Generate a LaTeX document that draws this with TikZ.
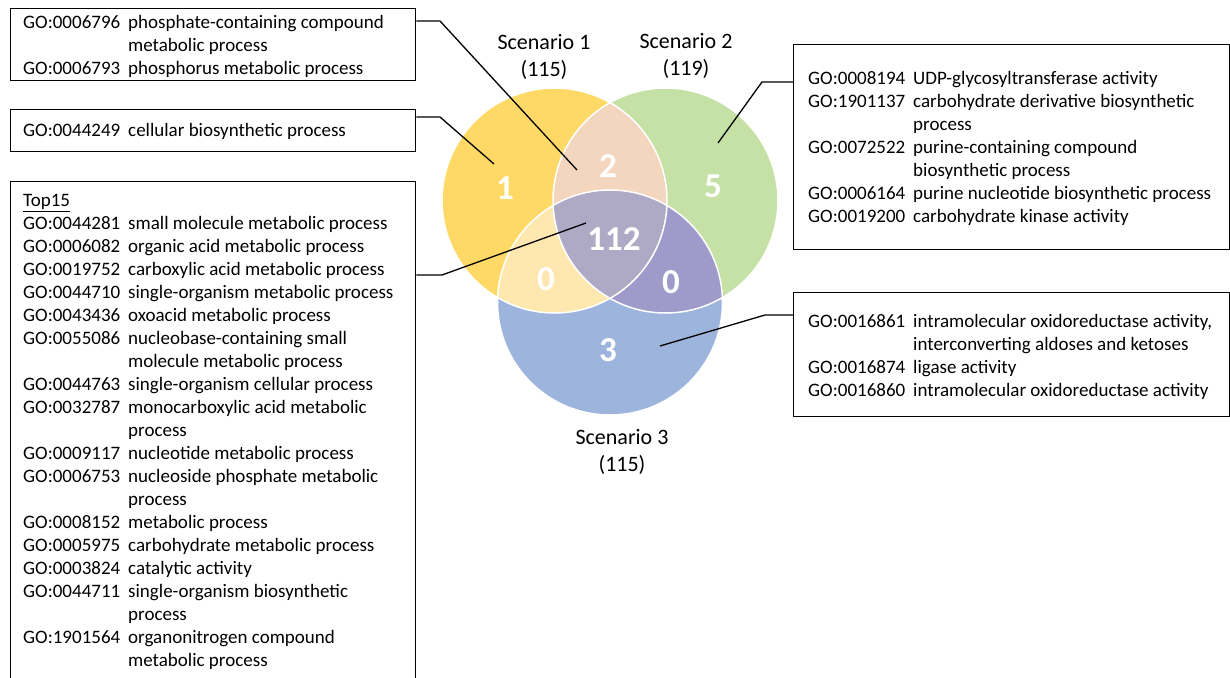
\documentclass[tikz,border=0pt]{standalone}
\usepackage{fontspec}
\setmainfont{Carlito}
\usepackage{array}
\definecolor{setA}{HTML}{FFD966}
\definecolor{setB}{HTML}{C5E1A5}
\definecolor{setC}{HTML}{9DB4DD}
\definecolor{setAB}{HTML}{F4D5BD}
\definecolor{setAC}{HTML}{FFE8B0}
\definecolor{setBC}{HTML}{9E9BCB}
\definecolor{setABC}{HTML}{AEA9C4}
\newcommand{\goterm}[2]{GO:#1 & #2\\}
\newcommand{\gocont}[1]{ & #1\\}
\newenvironment{golist}{\begin{tabular}{@{}p{105pt}@{}l@{}}}{\end{tabular}}
\begin{document}
\begin{tikzpicture}[x=1pt,y=-1pt,
  gobox/.style={draw=black, line width=1.3pt, inner sep=0pt, anchor=north west},
  gotext/.style={anchor=north west, inner sep=0pt, align=left, font=\fontsize{19}{23}\selectfont},
  setlabel/.style={align=center, inner sep=0pt, font=\fontsize{22}{27}\selectfont},
  count/.style={inner sep=0pt, text=white, font=\fontsize{35}{40}\selectfont\bfseries},
  leader/.style={draw=black, line width=1.3pt}]
\useasboundingbox (0,0) rectangle (1230,677);
\clip (0,0) rectangle (1230,677);

% set centres
\coordinate (c1) at (554.5,200.5);
\coordinate (c2) at (665.5,200.5);
\coordinate (c3) at (610,302.5);
\def\rad{112.5}

% single sets
\fill[setA] (c1) circle[radius=\rad];
\fill[setB] (c2) circle[radius=\rad];
\fill[setC] (c3) circle[radius=\rad];
% overlaps with set 1
\begin{scope}
  \clip (c1) circle[radius=\rad];
  \fill[setAB] (c2) circle[radius=\rad];
  \fill[setAC] (c3) circle[radius=\rad];
\end{scope}
% overlap of sets 2 and 3, and the common core
\begin{scope}
  \clip (c2) circle[radius=\rad];
  \clip (c3) circle[radius=\rad];
  \fill[setBC] (0,0) rectangle (1230,677);
  \clip (c1) circle[radius=\rad];
  \fill[setABC] (0,0) rectangle (1230,677);
\end{scope}
% white outlines
\foreach \c in {c1,c2,c3}
  \draw[white, line width=1.5pt] (\c) circle[radius=\rad];

% set titles
\node[setlabel] (s1) at (544,57) {Scenario 1\\(115)};
\node[setlabel] (s2) at (686,56) {Scenario 2\\(119)};
\node[setlabel] (s3) at (622,452) {Scenario 3\\(115)};

% region counts
\node[count] (n1)   at (505,188) {1};
\node[count] (n12)  at (608,166) {2};
\node[count] (n2)   at (713,186) {5};
\node[count] (n123) at (614,239) {112};
\node[count] (n13)  at (546,279) {0};
\node[count] (n23)  at (671,282) {0};
\node[count] (n3)   at (608,350) {3};

% annotation boxes
\node[gobox, minimum width=405pt, minimum height=72pt] (boxA) at (10,8) {};
\node[gobox, minimum width=405pt, minimum height=42pt] (boxB) at (10,109) {};
\node[gobox, minimum width=405pt, minimum height=520pt] (boxC) at (10,181) {};
\node[gobox, minimum width=436pt, minimum height=205pt] (boxD) at (793,44) {};
\node[gobox, minimum width=436pt, minimum height=124pt] (boxE) at (793,292) {};

\node[gotext] (tA) at (23,12) {\begin{golist}
\goterm{0006796}{phosphate-containing compound}
\gocont{metabolic process}
\goterm{0006793}{phosphorus metabolic process}
\end{golist}};

\node[gotext] (tB) at (23,120) {\begin{golist}
\goterm{0044249}{cellular biosynthetic process}
\end{golist}};

\node[gotext] (tC) at (23,190) {\begin{golist}
\multicolumn{2}{@{}l@{}}{\underline{Top15}}\\
\goterm{0044281}{small molecule metabolic process}
\goterm{0006082}{organic acid metabolic process}
\goterm{0019752}{carboxylic acid metabolic process}
\goterm{0044710}{single-organism metabolic process}
\goterm{0043436}{oxoacid metabolic process}
\goterm{0055086}{nucleobase-containing small}
\gocont{molecule metabolic process}
\goterm{0044763}{single-organism cellular process}
\goterm{0032787}{monocarboxylic acid metabolic}
\gocont{process}
\goterm{0009117}{nucleotide metabolic process}
\goterm{0006753}{nucleoside phosphate metabolic}
\gocont{process}
\goterm{0008152}{metabolic process}
\goterm{0005975}{carbohydrate metabolic process}
\goterm{0003824}{catalytic activity}
\goterm{0044711}{single-organism biosynthetic}
\gocont{process}
\goterm{1901564}{organonitrogen compound}
\gocont{metabolic process}
\end{golist}};

\node[gotext] (tD) at (808,68) {\begin{golist}
\goterm{0008194}{UDP-glycosyltransferase activity}
\goterm{1901137}{carbohydrate derivative biosynthetic}
\gocont{process}
\goterm{0072522}{purine-containing compound}
\gocont{biosynthetic process}
\goterm{0006164}{purine nucleotide biosynthetic process}
\goterm{0019200}{carbohydrate kinase activity}
\end{golist}};

\node[gotext] (tE) at (808,311) {\begin{golist}
\goterm{0016861}{intramolecular oxidoreductase activity,}
\gocont{interconverting aldoses and ketoses}
\goterm{0016874}{ligase activity}
\goterm{0016860}{intramolecular oxidoreductase activity}
\end{golist}};

% leader lines
\coordinate (bA) at (440,21);   \coordinate (eA) at (577,170);
\coordinate (bB) at (440,117);  \coordinate (eB) at (494,164);
\coordinate (bC) at (442,275);  \coordinate (eC) at (586,223);
\coordinate (bD) at (762,82);   \coordinate (eD) at (718,143);
\coordinate (bE) at (765,315);  \coordinate (eE) at (660,346);
\draw[leader] (boxA.east |- bA) -- (bA) -- (eA);
\draw[leader] (boxB.east |- bB) -- (bB) -- (eB);
\draw[leader] (boxC.east |- bC) -- (bC) -- (eC);
\draw[leader] (boxD.west |- bD) -- (bD) -- (eD);
\draw[leader] (boxE.west |- bE) -- (bE) -- (eE);
\end{tikzpicture}
\end{document}
